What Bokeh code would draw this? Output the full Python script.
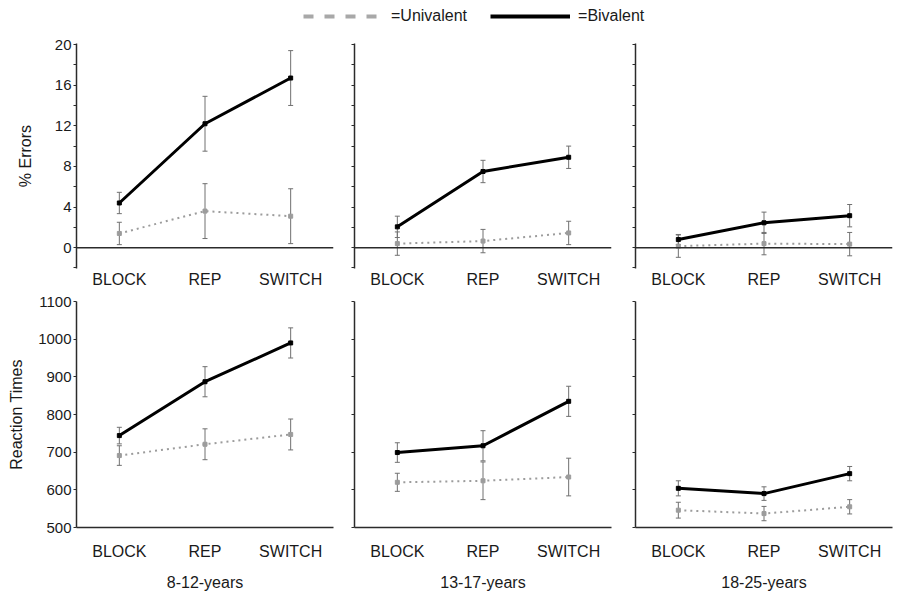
import numpy as np
from bokeh.plotting import figure
from bokeh.layouts import column, row
from bokeh.models import (FactorRange, Range1d, FixedTicker, Span, Whisker, TeeHead,
                          ColumnDataSource, Legend, LegendItem)
from bokeh.embed import file_html
from bokeh.resources import INLINE

# ---------------- data ----------------
conditions = ["BLOCK", "REP", "SWITCH"]
age_groups = ["8-12-years", "13-17-years", "18-25-years"]

# % Errors (mean, error bar half-length)
err_biv_8_12 = [4.4, 12.2, 16.7]
err_biv_8_12_se = [1.05, 2.7, 2.7]
err_uni_8_12 = [1.4, 3.6, 3.1]
err_uni_8_12_se = [1.1, 2.7, 2.7]

err_biv_13_17 = [2.05, 7.5, 8.9]
err_biv_13_17_se = [1.05, 1.1, 1.1]
err_uni_13_17 = [0.4, 0.65, 1.45]
err_uni_13_17_se = [1.15, 1.15, 1.15]

err_biv_18_25 = [0.8, 2.45, 3.15]
err_biv_18_25_se = [0.5, 1.05, 1.1]
err_uni_18_25 = [0.15, 0.4, 0.35]
err_uni_18_25_se = [1.1, 1.1, 1.15]

# Reaction times (ms)
rt_biv_8_12 = [744, 887, 990]
rt_biv_8_12_se = [22, 40, 40]
rt_uni_8_12 = [691, 721, 747]
rt_uni_8_12_se = [26, 41, 41]

rt_biv_13_17 = [699, 717, 835]
rt_biv_13_17_se = [26, 40, 40]
rt_uni_13_17 = [620, 624, 634]
rt_uni_13_17_se = [24, 50, 50]

rt_biv_18_25 = [604, 590, 643]
rt_biv_18_25_se = [20, 18, 19]
rt_uni_18_25 = [546, 537, 555]
rt_uni_18_25_se = [21, 19, 19]

err_major_ticks = [0, 4, 8, 12, 16, 20]
err_minor_ticks = [-2, 2, 6, 10, 14, 18]
rt_ticks = [500, 600, 700, 800, 900, 1000, 1100]

# ---------------- style ----------------
FONT = "Liberation Sans"
TXT = "#1a1a1a"
AX = "#2b2b2b"
UNI = "#9c9c9c"
BAR = "#707070"

FRAME_W = 257
BORDERS = [(76, 5), (16, 8), (16, 11)]


def make_panel(col, top, biv, biv_se, uni, uni_se):
    left, right = BORDERS[col]
    if top:
        yr = Range1d(-2.05, 20.1)
        fh, bt, bb = 225, 9, 22
    else:
        yr = Range1d(500, 1100)
        fh, bt, bb = 226, 11, 63
    p = figure(x_range=FactorRange(*conditions), y_range=yr,
               frame_width=FRAME_W, frame_height=fh,
               min_border_left=left, min_border_right=right,
               min_border_top=bt, min_border_bottom=bb,
               output_backend="svg", toolbar_location=None,
               outline_line_color=None, background_fill_color="white",
               border_fill_color="white")
    p.xgrid.visible = False
    p.ygrid.visible = False

    src = ColumnDataSource(dict(
        x=conditions, biv=biv, uni=uni,
        biv_lo=[m - s for m, s in zip(biv, biv_se)],
        biv_hi=[m + s for m, s in zip(biv, biv_se)],
        uni_lo=[m - s for m, s in zip(uni, uni_se)],
        uni_hi=[m + s for m, s in zip(uni, uni_se)],
    ))

    if top:
        p.add_layout(Span(location=0, dimension="width", line_color=AX, line_width=1.5))

    for lo, hi in (("uni_lo", "uni_hi"), ("biv_lo", "biv_hi")):
        p.add_layout(Whisker(base="x", lower=lo, upper=hi, source=src,
                             line_color=BAR, line_width=1,
                             upper_head=TeeHead(size=5, line_color=BAR, line_width=1),
                             lower_head=TeeHead(size=5, line_color=BAR, line_width=1)))

    p.line("x", "uni", source=src, line_color=UNI, line_width=2, line_dash="2 4")
    p.scatter("x", "uni", source=src, marker="square", size=4,
              fill_color=UNI, line_color=UNI)
    p.line("x", "biv", source=src, line_color="black", line_width=3)
    p.scatter("x", "biv", source=src, marker="square", size=4,
              fill_color="black", line_color="black")

    # y axis
    ya = p.yaxis[0]
    if top:
        if col == 0:
            ya.ticker = FixedTicker(ticks=err_major_ticks, minor_ticks=err_minor_ticks)
        else:
            ya.ticker = FixedTicker(ticks=[], minor_ticks=err_major_ticks + err_minor_ticks)
    else:
        if col == 0:
            ya.ticker = FixedTicker(ticks=rt_ticks, minor_ticks=[])
        else:
            ya.ticker = FixedTicker(ticks=[], minor_ticks=rt_ticks)
    ya.axis_line_color = AX
    ya.axis_line_width = 1.5
    ya.major_tick_line_color = AX
    ya.minor_tick_line_color = AX
    ya.major_tick_out = 3
    ya.major_tick_in = 0
    ya.minor_tick_out = 3
    ya.minor_tick_in = 0
    ya.major_label_standoff = 2
    ya.major_label_text_font = FONT
    ya.major_label_text_font_size = "15px"
    ya.major_label_text_color = TXT
    if col == 0:
        ya.axis_label = "% Errors" if top else "Reaction Times"
        ya.axis_label_text_font = FONT
        ya.axis_label_text_font_size = "16px"
        ya.axis_label_text_font_style = "normal"
        ya.axis_label_text_color = TXT
        ya.axis_label_standoff = 18 if top else 10

    # x axis
    xa = p.xaxis[0]
    xa.major_tick_line_color = None
    xa.minor_tick_line_color = None
    xa.major_tick_out = 0
    xa.major_tick_in = 0
    xa.minor_tick_out = 0
    xa.minor_tick_in = 0
    xa.major_label_text_font = FONT
    xa.major_label_text_font_size = "16px"
    xa.major_label_text_color = TXT
    if top:
        xa.axis_line_color = None
        xa.major_label_standoff = 2
    else:
        xa.axis_line_color = AX
        xa.axis_line_width = 1.5
        xa.major_label_standoff = 15
        xa.axis_label = age_groups[col]
        xa.axis_label_text_font = FONT
        xa.axis_label_text_font_size = "16px"
        xa.axis_label_text_font_style = "normal"
        xa.axis_label_text_color = TXT
        xa.axis_label_standoff = 11
    return p


top_data = [
    (err_biv_8_12, err_biv_8_12_se, err_uni_8_12, err_uni_8_12_se),
    (err_biv_13_17, err_biv_13_17_se, err_uni_13_17, err_uni_13_17_se),
    (err_biv_18_25, err_biv_18_25_se, err_uni_18_25, err_uni_18_25_se),
]
bot_data = [
    (rt_biv_8_12, rt_biv_8_12_se, rt_uni_8_12, rt_uni_8_12_se),
    (rt_biv_13_17, rt_biv_13_17_se, rt_uni_13_17, rt_uni_13_17_se),
    (rt_biv_18_25, rt_biv_18_25_se, rt_uni_18_25, rt_uni_18_25_se),
]

top_row = [make_panel(i, True, *d) for i, d in enumerate(top_data)]
bot_row = [make_panel(i, False, *d) for i, d in enumerate(bot_data)]

# legend strip (legend-only renderers hold no visible data)
lg = figure(width=903, height=34, x_range=Range1d(0, 1), y_range=Range1d(0, 1),
            min_border=0, x_axis_location=None, y_axis_location=None,
            output_backend="svg", toolbar_location=None, outline_line_color=None)
lg.xgrid.visible = False
lg.ygrid.visible = False
nan = np.array([np.nan])
r_u = lg.line(x=nan, y=nan, line_color="#a8a8a8", line_width=4, line_dash="10 11")
r_b = lg.line(x=nan, y=nan, line_color="black", line_width=4)
legend = Legend(items=[LegendItem(label="=Univalent", renderers=[r_u]),
                       LegendItem(label="=Bivalent", renderers=[r_b])],
                orientation="horizontal", location=(303, 9),
                glyph_width=80, glyph_height=16, label_height=16,
                label_standoff=8, spacing=23, padding=0, margin=0,
                border_line_color=None, background_fill_alpha=0,
                label_text_font=FONT, label_text_font_size="16px",
                label_text_color=TXT)
lg.add_layout(legend)

layout = column(lg, row(*top_row), row(*bot_row))

open("out.html", "w").write(file_html(layout, INLINE))
